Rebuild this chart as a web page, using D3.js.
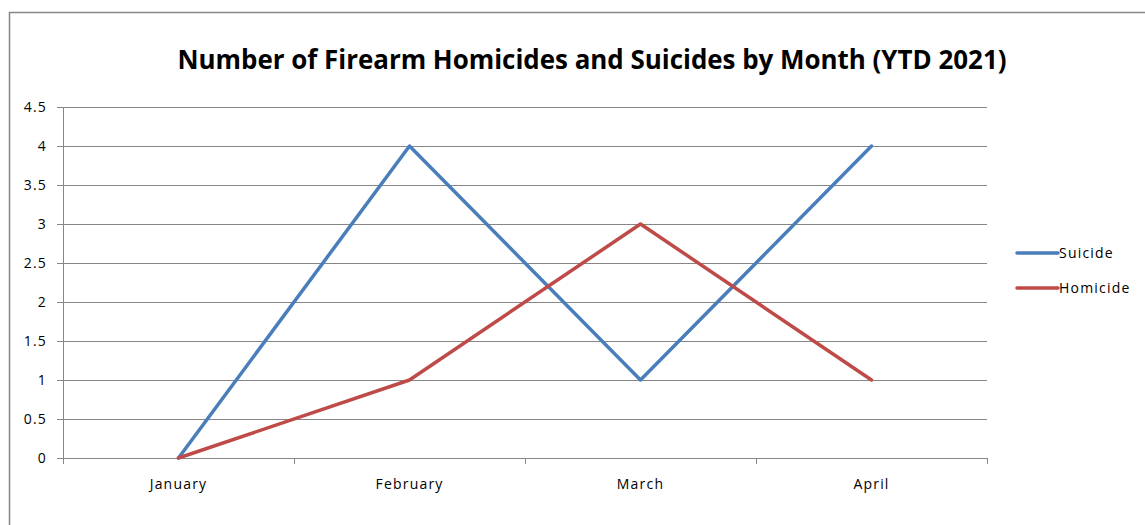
<!DOCTYPE html>
<html><head><meta charset="utf-8">
<script src="https://cdn.jsdelivr.net/npm/d3@7"></script>
<style>body{margin:0;background:#fff}svg{display:block}</style>
</head><body>
<svg id="c" width="1145" height="525"></svg>
<script>
const months = ["January","February","March","April"];
const suicide = [0,4,1,4];
const homicide = [0,1,3,1];
const yTicks = [0,0.5,1,1.5,2,2.5,3,3.5,4,4.5];
const seriesNames = ["Suicide","Homicide"];
const colors = ["#4A7EBB","#BE4B48"];
const title = "Number of Firearm Homicides and Suicides by Month (YTD 2021)";

const svg = d3.select("#c");
const font = "'Open Sans', 'Liberation Sans', sans-serif";
const fs = 14, ls = "1.2px";
svg.append("rect").attr("x",9.5).attr("y",12.5).attr("width",1145).attr("height",530)
  .attr("fill","#fff").attr("stroke","#868686").attr("stroke-width",1.5);

const L=63, R=987, T=107, B=458;
const x = d3.scaleBand().domain(months).range([L,R]);
const y = d3.scaleLinear().domain([0,4.5]).range([B,T]);

// gridlines
svg.append("g").selectAll("line").data(yTicks).join("line")
  .attr("x1",L-6).attr("x2",R).attr("y1",d=>Math.round(y(d))+0.5).attr("y2",d=>Math.round(y(d))+0.5)
  .attr("stroke","#868686").attr("stroke-width",1);
// y axis line
svg.append("line").attr("x1",L+0.5).attr("x2",L+0.5).attr("y1",T).attr("y2",B+6).attr("stroke","#868686");
// y labels
svg.append("g").selectAll("text").data(yTicks).join("text")
  .attr("x",L-16).attr("y",d=>y(d)).attr("dy","0.35em").attr("text-anchor","end")
  .attr("font-family",font).attr("font-size",fs).attr("letter-spacing",ls).attr("fill","#000").text(d=>d);
// x ticks
const xt = months.map(m=>x(m)).concat([R]);
svg.append("g").selectAll("line").data(xt).join("line")
  .attr("x1",d=>Math.round(d)+0.5).attr("x2",d=>Math.round(d)+0.5).attr("y1",B).attr("y2",B+6)
  .attr("stroke","#868686");
svg.append("g").selectAll("text").data(months).join("text")
  .attr("x",d=>x(d)+x.bandwidth()/2).attr("y",489).attr("text-anchor","middle")
  .attr("font-family",font).attr("font-size",fs).attr("letter-spacing",ls).attr("fill","#000").text(d=>d);

const line = d3.line().x((d,i)=>x(months[i])+x.bandwidth()/2).y(d=>y(d));
[suicide,homicide].forEach((s,i)=>{
  svg.append("path").attr("d",line(s)).attr("fill","none").attr("stroke",colors[i])
    .attr("stroke-width",3.5).attr("stroke-linejoin","round").attr("stroke-linecap","round");
});

// title
svg.append("text").attr("x",592).attr("y",69).attr("text-anchor","middle")
  .attr("font-family",font).attr("font-weight","bold").attr("font-size",26)
  .attr("textLength",829).attr("lengthAdjust","spacingAndGlyphs").attr("fill","#000").text(title);

// legend
const lg = svg.append("g");
seriesNames.forEach((n,i)=>{
  const yy = 253 + i*35;
  lg.append("line").attr("x1",1017).attr("x2",1058).attr("y1",yy).attr("y2",yy)
    .attr("stroke",colors[i]).attr("stroke-width",3.5).attr("stroke-linecap","round");
  lg.append("text").attr("x",1059).attr("y",yy).attr("dy","0.35em")
    .attr("font-family",font).attr("font-size",fs).attr("letter-spacing",ls).attr("fill","#000").text(n);
});
</script>
</body></html>
